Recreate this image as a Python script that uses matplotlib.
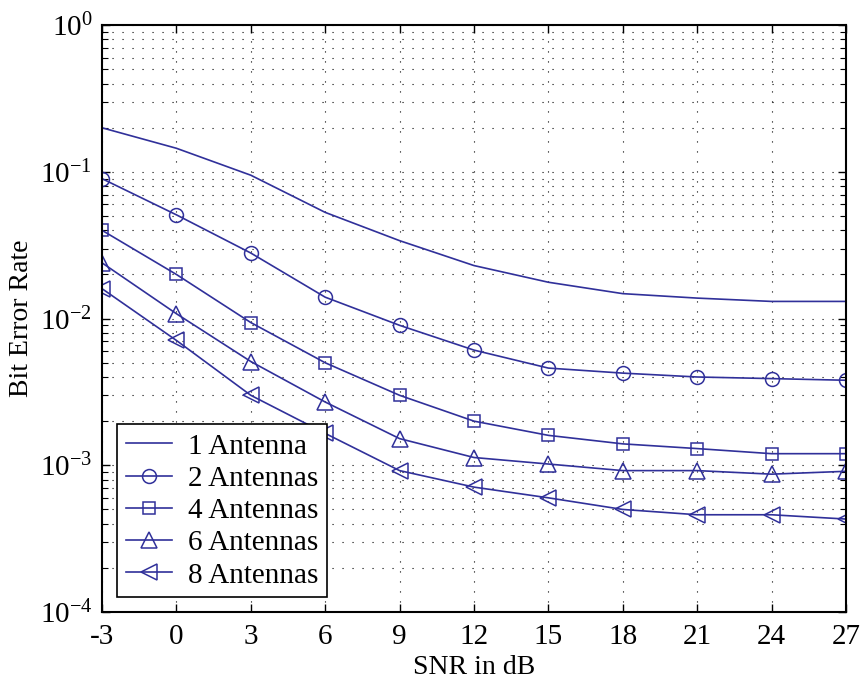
import matplotlib
matplotlib.use('Agg')
import numpy as np
import matplotlib.pyplot as plt
from matplotlib.ticker import LogLocator, NullFormatter

plt.rcParams['font.family'] = 'Liberation Serif'
plt.rcParams['mathtext.fontset'] = 'custom'
plt.rcParams['mathtext.rm'] = 'Liberation Serif'
plt.rcParams['mathtext.it'] = 'Liberation Serif:italic'
plt.rcParams['mathtext.default'] = 'regular'

snr = [-3, 0, 3, 6, 9, 12, 15, 18, 21, 24, 27]

ber_1 = [0.20, 0.145, 0.095, 0.053, 0.034, 0.023, 0.0177, 0.0148, 0.0138, 0.0131, 0.0131]
ber_2 = [0.090, 0.051, 0.028, 0.014, 0.0090, 0.0061, 0.0046, 0.00425, 0.0040, 0.0039, 0.0038]
ber_4 = [0.040, 0.020, 0.0094, 0.0050, 0.0030, 0.0020, 0.0016, 0.0014, 0.0013, 0.0012, 0.0012]
ber_6 = [0.024, 0.0108, 0.0051, 0.0027, 0.00152, 0.00113, 0.00102, 0.00092, 0.00092, 0.00087, 0.00091]
ber_8 = [0.016, 0.0071, 0.0030, 0.00165, 0.00092, 0.00071, 0.00060, 0.00050, 0.00046, 0.00046, 0.00043]

series = [
    (ber_1, None, '1 Antenna'),
    (ber_2, 'o', '2 Antennas'),
    (ber_4, 's', '4 Antennas'),
    (ber_6, '^', '6 Antennas'),
    (ber_8, '<', '8 Antennas'),
]
msizes = {'o': 10, 's': 8.5, '^': 11, '<': 11}

col = '#30309a'

fig = plt.figure(figsize=(8.61, 6.83), dpi=100)
ax = fig.add_axes([0.1185, 0.104, 0.864, 0.859])

for y, m, lab in series:
    if m is None:
        ax.semilogy(snr, y, '-', color=col, lw=1.2, label=lab)
    else:
        ax.semilogy(snr, y, '-', color=col, lw=1.2, marker=m, ms=msizes[m],
                    mfc='none', mec=col, mew=1.1, label=lab)

ax.set_xlim(-3, 27)
ax.set_ylim(1e-4, 1)
ax.set_xticks(snr)
ax.set_xticklabels([str(s) for s in snr])
ax.yaxis.set_major_locator(LogLocator(base=10, numticks=10))
ax.yaxis.set_minor_locator(LogLocator(base=10, subs=np.arange(2, 10), numticks=20))
ax.yaxis.set_minor_formatter(NullFormatter())

ax.tick_params(which='both', direction='in', top=True, right=True, labelsize=21)
ax.tick_params(which='major', length=6, width=1)
ax.tick_params(which='minor', length=4, width=0.8)
ax.tick_params(axis='x', pad=9)
ax.tick_params(axis='y', pad=7)

ax.grid(True, which='major', axis='x', color='k', ls=(0, (1, 8)), lw=0.8)
ax.grid(True, which='both', axis='y', color='k', ls=(0, (1, 8)), lw=0.8)

for s in ax.spines.values():
    s.set_linewidth(1.5)

ax.set_xlabel('SNR in dB', fontsize=20, labelpad=3)
ax.set_ylabel('Bit Error Rate', fontsize=20, labelpad=4)

leg = ax.legend(loc='lower left', bbox_to_anchor=(0.012, 0.015), fontsize=21,
                fancybox=False, framealpha=1, edgecolor='k', handlelength=1.6,
                borderpad=0.3, labelspacing=0.2, handletextpad=0.55,
                borderaxespad=0.2)
leg.get_frame().set_linewidth(1.2)

fig.savefig('out.png', dpi=100)
